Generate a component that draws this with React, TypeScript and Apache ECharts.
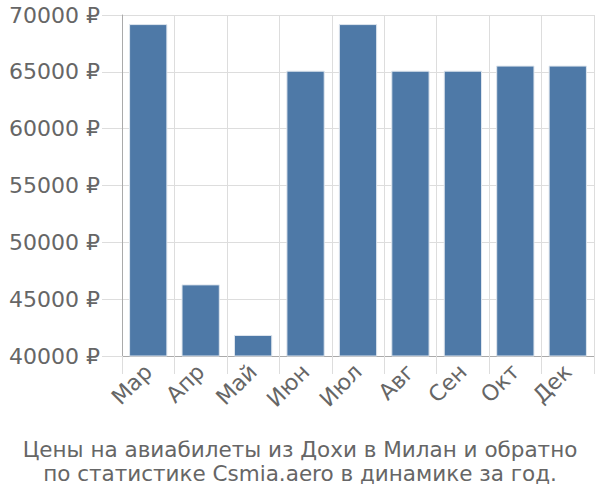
import React, { useEffect, useRef } from "react";
import * as echarts from "echarts";

const months = ["Мар", "Апр", "Май", "Июн", "Июл", "Авг", "Сен", "Окт", "Дек"];
const prices = [69200, 46300, 41850, 65100, 69200, 65100, 65100, 65550, 65550];
const titleLines = [
  "Цены на авиабилеты из Дохи в Милан и обратно",
  "по статистике Csmia.aero в динамике за год.",
];

const FONT = "DejaVu Sans";

export default function App() {
  const ref = useRef<HTMLDivElement>(null);
  useEffect(() => {
    document.body.style.margin = "0";
    const chart = echarts.init(ref.current!, null, { renderer: "svg" });
    chart.setOption({
      animation: false,
      title: {
        text: titleLines.join("\n"),
        left: "center",
        top: 432,
        textStyle: {
          color: "#666",
          fontSize: 21.5,
          fontWeight: "normal",
          fontFamily: FONT,
          lineHeight: 24,
        },
      },
      grid: { left: 122, right: 6, top: 15, bottom: 144, containLabel: false },
      xAxis: {
        type: "category",
        data: months,
        axisLine: { lineStyle: { color: "#aaa", width: 1 } },
        axisTick: { show: true, length: 18, lineStyle: { color: "#ddd" } },
        splitLine: { show: true, lineStyle: { color: "#ddd" } },
        axisLabel: {
          rotate: 45,
          fontSize: 22,
          color: "#666",
          fontFamily: FONT,
          margin: 12,
        },
      },
      yAxis: {
        type: "value",
        min: 40000,
        max: 70000,
        interval: 5000,
        axisLine: { show: true, lineStyle: { color: "#aaa" } },
        axisTick: { show: true, length: 20, lineStyle: { color: "#ddd" } },
        splitLine: { show: true, lineStyle: { color: "#ddd" } },
        axisLabel: {
          fontSize: 22,
          color: "#666",
          fontFamily: FONT,
          margin: 22,
          formatter: (v: number) => v + " ₽",
        },
      },
      series: [
        {
          type: "bar",
          data: prices,
          barCategoryGap: "27%",
          itemStyle: { color: "#4e79a7", borderColor: "#dfe6ee", borderWidth: 1 },
        },
      ],
    });
    return () => chart.dispose();
  }, []);
  return <div ref={ref} style={{ width: 600, height: 500 }} />;
}
